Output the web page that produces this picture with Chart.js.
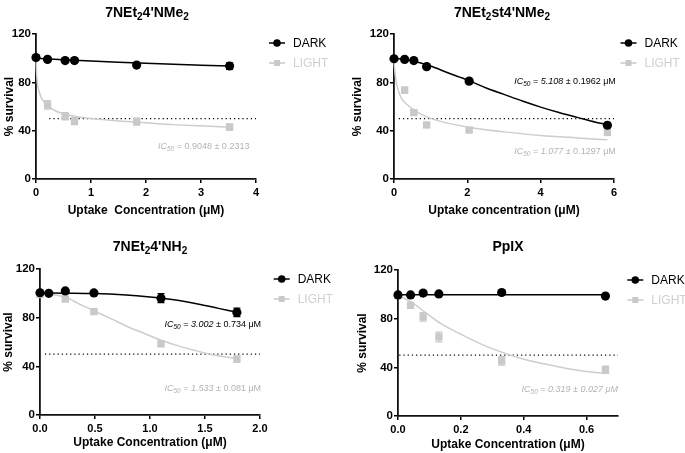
<!DOCTYPE html>
<html><head><meta charset="utf-8">
<script src="https://cdn.jsdelivr.net/npm/chart.js@4.4.1/dist/chart.umd.min.js"></script>
<style>
body{margin:0;background:#fff;width:685px;height:453px;position:relative;overflow:hidden;font-family:"Liberation Sans",Arial,sans-serif}
canvas{position:absolute}
.t{position:absolute;font-weight:bold;font-size:14px;transform:translate(-50%,-50%);white-space:nowrap;line-height:1}
.t sub{font-size:10px;vertical-align:-3px;line-height:0}
</style></head>
<body>
<canvas id="c1" width="342" height="226" style="left:0;top:0"></canvas>
<canvas id="c2" width="343" height="226" style="left:342px;top:0"></canvas>
<canvas id="c3" width="342" height="227" style="left:0;top:226px"></canvas>
<canvas id="c4" width="343" height="227" style="left:342px;top:226px"></canvas>
<div class="t" style="left:147px;top:12px">7NEt<sub>2</sub>4'NMe<sub>2</sub></div>
<div class="t" style="left:502px;top:12px">7NEt<sub>2</sub>st4'NMe<sub>2</sub></div>
<div class="t" style="left:150px;top:246px">7NEt<sub>2</sub>4'NH<sub>2</sub></div>
<div class="t" style="left:508px;top:246px">PpIX</div>
<script>
// ---------- DATA ----------
const yTicks = [0, 40, 80, 120];
const seriesNames = ['DARK', 'LIGHT'];

// Panel 1: 7NEt2 4'NMe2
const p1XTicks = [0, 1, 2, 3, 4];
const p1DarkX = [0, 0.21, 0.53, 0.70, 1.83, 3.52];
const p1DarkY = [100.5, 99, 98, 98, 94.3, 93.5];
const p1DarkErr = [0.8, 0.8, 0.8, 0.8, 1.2, 2.7];
const p1LightX = [0.21, 0.53, 0.70, 1.83, 3.52];
const p1LightY = [61.3, 52, 48, 47.5, 43];
const p1LightErr = [3.5, 3, 3, 3, 2.5];
const p1DarkFitX = [0, 0.5, 1, 1.5, 2, 2.5, 3, 3.52];
const p1DarkFitY = [100, 98.7, 97.6, 96.6, 95.7, 94.9, 94.2, 93.5];
const p1LightFitX = [0, 0.01, 0.03, 0.06, 0.1, 0.2, 0.35, 0.5, 0.75, 1, 1.5, 2, 2.5, 3, 3.52];
const p1LightFitY = [100, 88, 78, 72, 67, 61.5, 56.5, 54, 51.5, 50, 48, 46.5, 45, 44, 43];
const p1RefX = [0.24, 4.0];

// Panel 2: 7NEt2 st4'NMe2
const p2XTicks = [0, 2, 4, 6];
const p2DarkX = [0, 0.29, 0.54, 0.89, 2.05, 5.82];
const p2DarkY = [99.5, 99, 98, 93, 81, 44.5];
const p2DarkErr = [0.8, 0.8, 0.8, 1, 1, 1.5];
const p2LightX = [0.29, 0.54, 0.89, 2.05, 5.82];
const p2LightY = [73.5, 55, 44.7, 40.5, 38.5];
const p2LightErr = [2.5, 2, 2, 1.5, 2];
const p2DarkFitX = [0, 0.3, 0.6, 1, 1.5, 2, 2.5, 3, 3.5, 4, 4.5, 5, 5.5, 5.82];
const p2DarkFitY = [99.7, 99, 97, 93.5, 87.5, 82, 75.5, 70, 64.5, 59.5, 55, 51, 47, 45];
const p2LightFitX = [0, 0.03, 0.1, 0.2, 0.38, 0.6, 0.93, 1.3, 1.66, 2.2, 3, 4, 5, 5.82];
const p2LightFitY = [97, 87, 75, 67, 61, 56, 51, 47.5, 45, 42, 39, 36, 34, 32.5];
const p2RefX = [0.13, 6.0];

// Panel 3: 7NEt2 4'NH2
const p3XTicks = [0, 0.5, 1, 1.5, 2];
const p3DarkX = [0, 0.08, 0.23, 0.49, 1.10, 1.79];
const p3DarkY = [100.5, 100, 102, 100.3, 96, 84.3];
const p3DarkErr = [1, 0.8, 1, 1, 3.7, 3.5];
const p3LightX = [0, 0.23, 0.49, 1.10, 1.79];
const p3LightY = [99, 95.3, 85, 58.5, 46];
const p3LightErr = [1, 1.5, 1.5, 2, 2.5];
const p3DarkFitX = [0, 0.25, 0.5, 0.75, 1, 1.25, 1.5, 1.79];
const p3DarkFitY = [100.2, 100.1, 99.8, 98.8, 97, 94.3, 90, 84.3];
const p3LightFitX = [0, 0.1, 0.23, 0.35, 0.49, 0.65, 0.8, 0.95, 1.1, 1.25, 1.4, 1.55, 1.79];
const p3LightFitY = [100, 99, 97, 91.5, 85.7, 79, 72.5, 67, 61.5, 57, 53.3, 50, 46.3];
const p3RefX = [0.045, 2.0];

// Panel 4: PpIX
const p4XTicks = [0, 0.2, 0.4, 0.6];
const p4DarkX = [0, 0.04, 0.08, 0.13, 0.33, 0.66];
const p4DarkY = [99.5, 99.5, 101, 100.3, 101.5, 98.6];
const p4DarkErr = [0.8, 0.8, 0.8, 0.8, 0.8, 0.8];
const p4LightX = [0, 0.04, 0.08, 0.13, 0.33, 0.66];
const p4LightY = [99, 91, 81.5, 65, 45.3, 38];
const p4LightErr = [1, 2, 3.5, 4, 3.5, 3];
const p4DarkFitX = [0, 0.66];
const p4DarkFitY = [99.6, 99.6];
const p4LightFitX = [0, 0.04, 0.08, 0.13, 0.19, 0.27, 0.33, 0.41, 0.51, 0.6, 0.66];
const p4LightFitY = [99, 94, 86.5, 77, 68.5, 58.5, 52.5, 46, 40.5, 36.5, 35];
const p4RefX = [0.004, 0.7];

// ---------- STYLE ----------
const FONT = '"Liberation Sans", Arial, sans-serif';
const LIGHT = '#c9c9c9';
const LIGHTLINE = '#cdcdcd';
const LIGHTTXT = '#b3b3b3';
const zip = (xs, ys) => xs.map((x, i) => ({x, y: ys[i]}));

const errPlugin = {
  id: 'err',
  beforeDatasetsDraw(chart) {
    const ctx = chart.ctx, ys = chart.scales.y;
    chart.data.datasets.forEach((ds, i) => {
      if (!ds.err) return;
      const meta = chart.getDatasetMeta(i);
      ctx.save();
      ctx.strokeStyle = ds.borderColor; ctx.lineWidth = 1.2;
      meta.data.forEach((pt, j) => {
        const v = ds.data[j].y, e = ds.err[j];
        const y1 = ys.getPixelForValue(v + e), y2 = ys.getPixelForValue(v - e);
        ctx.beginPath();
        ctx.moveTo(pt.x, y1); ctx.lineTo(pt.x, y2);
        ctx.moveTo(pt.x - 3.5, y1); ctx.lineTo(pt.x + 3.5, y1);
        ctx.moveTo(pt.x - 3.5, y2); ctx.lineTo(pt.x + 3.5, y2);
        ctx.stroke();
      });
      ctx.restore();
    });
  }
};

const legendPlugin = {
  id: 'leg',
  afterDraw(chart, args, o) {
    const ctx = chart.ctx;
    ctx.save();
    [0, 1].forEach(k => {
      const ds = chart.data.datasets[k];
      const x = o.x, y = o.y + k * 20;
      const col = k === 0 ? '#000' : LIGHT;
      ctx.strokeStyle = col; ctx.lineWidth = 1.5;
      ctx.beginPath(); ctx.moveTo(x - 8, y); ctx.lineTo(x + 8, y); ctx.stroke();
      ctx.fillStyle = col;
      if (k === 0) { ctx.beginPath(); ctx.arc(x, y, 3.8, 0, Math.PI * 2); ctx.fill(); }
      else ctx.fillRect(x - 3, y - 3, 6, 6);
      ctx.fillStyle = k === 0 ? '#000' : '#d0d0d0';
      ctx.font = '12px ' + FONT;
      ctx.textBaseline = 'middle'; ctx.textAlign = 'left';
      ctx.fillText(ds.label, x + 16, y + 0.5);
    });
    ctx.restore();
  }
};

const icPlugin = {
  id: 'ic',
  afterDraw(chart, args, o) {
    const ctx = chart.ctx, xs = chart.scales.x, ys = chart.scales.y;
    (o.items || []).forEach(it => {
      const parts = [
        {t: 'IC', it: true, s: 9, dy: 0},
        {t: '50', it: true, s: 6.5, dy: 2.5},
        {t: ' = ', it: false, s: 9, dy: 0},
        {t: it.a, it: !!it.numItalic, s: 9, dy: 0},
        {t: ' \u00b1 ' + it.b, it: !!it.allItalic, s: 9, dy: 0},
      ];
      ctx.save();
      let w = 0;
      parts.forEach(p => { ctx.font = (p.it ? 'italic ' : '') + p.s + 'px ' + FONT; p.w = ctx.measureText(p.t).width; w += p.w; });
      let x = xs.getPixelForValue(it.x) - w;
      const y = ys.getPixelForValue(it.y);
      ctx.fillStyle = it.c; ctx.textBaseline = 'middle'; ctx.textAlign = 'left';
      parts.forEach(p => { ctx.font = (p.it ? 'italic ' : '') + p.s + 'px ' + FONT; ctx.fillText(p.t, x, y + p.dy); x += p.w; });
      ctx.restore();
    });
  }
};

function panel(id, d, L) {
  const fmt = d.dec ? (v => Number(v).toFixed(1)) : (v => String(v));
  new Chart(document.getElementById(id), {
    type: 'scatter',
    data: {datasets: [
      {label: seriesNames[0], data: zip(d.dx, d.dy), err: d.de, pointStyle: 'circle', pointRadius: 4.6, pointHoverRadius: 4.6,
       backgroundColor: '#000', borderColor: '#000', borderWidth: 0, showLine: false, clip: false},
      {label: seriesNames[1], data: zip(d.lx, d.ly), err: d.le, pointStyle: 'rect', pointRadius: 5.2, pointHoverRadius: 5.2,
       backgroundColor: LIGHT, borderColor: LIGHT, borderWidth: 0, showLine: false, clip: false},
      {label: 'fitD', data: zip(d.dfx, d.dfy), showLine: true, pointRadius: 0, borderColor: '#000', borderWidth: 1.5,
       cubicInterpolationMode: 'monotone', clip: false},
      {label: 'fitL', data: zip(d.lfx, d.lfy), showLine: true, pointRadius: 0, borderColor: LIGHTLINE, borderWidth: 1.5,
       cubicInterpolationMode: 'monotone', clip: false},
      {label: 'ref', data: [{x: d.ref[0], y: 50}, {x: d.ref[1], y: 50}], showLine: true, pointRadius: 0,
       borderColor: '#000', borderWidth: 1.2, borderDash: [1.2, 3], clip: false}
    ]},
    options: {
      responsive: false, animation: false, devicePixelRatio: 1, events: [],
      layout: {padding: {left: 0, top: L.top, right: L.right, bottom: 0}},
      plugins: {legend: {display: false}, tooltip: {enabled: false},
        leg: {x: L.legX, y: L.legY}, ic: {items: d.ic}},
      scales: {
        x: {type: 'linear', min: 0, max: d.xmax,
          afterBuildTicks: s => { s.ticks = d.xt.map(v => ({value: v})); },
          afterFit: s => { s.height = L.xh; },
          grid: {drawOnChartArea: false, drawTicks: true, tickLength: 4, color: '#000', lineWidth: 1.5},
          border: {color: '#111', width: 1.8},
          ticks: {color: '#000', padding: 3, font: {family: FONT, size: 11, weight: 'bold'}, callback: fmt, maxRotation: 0},
          title: {display: true, text: d.xtitle, color: '#000', font: {family: FONT, size: 12, weight: 'bold'}, padding: {top: 0, bottom: L.xtp}}
        },
        y: {type: 'linear', min: 0, max: 120,
          afterBuildTicks: s => { s.ticks = yTicks.map(v => ({value: v})); },
          afterFit: s => { s.width = L.yw; },
          grid: {drawOnChartArea: false, drawTicks: true, tickLength: 4, color: '#000', lineWidth: 1.5},
          border: {color: '#111', width: 1.8},
          ticks: {color: '#000', padding: 1, font: {family: FONT, size: 11.5, weight: 'bold'}},
          title: {display: true, text: '% survival', color: '#000', font: {family: FONT, size: 12, weight: 'bold'}, padding: {top: L.ytp, bottom: 0}}
        }
      }
    },
    plugins: [errPlugin, legendPlugin, icPlugin]
  });
}

panel('c1', {dx: p1DarkX, dy: p1DarkY, de: p1DarkErr, lx: p1LightX, ly: p1LightY, le: p1LightErr,
  dfx: p1DarkFitX, dfy: p1DarkFitY, lfx: p1LightFitX, lfy: p1LightFitY, ref: p1RefX, xmax: 4, xt: p1XTicks,
  xtitle: 'Uptake  Concentration (\u03bcM)',
  ic: [{x: 3.88, y: 26.8, a: '0.9048', b: '0.2313', c: LIGHTTXT}]},
  {top: 34, right: 86, xh: 47, yw: 36, xtp: 8, ytp: 2, legX: 277, legY: 43});

panel('c2', {dx: p2DarkX, dy: p2DarkY, de: p2DarkErr, lx: p2LightX, ly: p2LightY, le: p2LightErr,
  dfx: p2DarkFitX, dfy: p2DarkFitY, lfx: p2LightFitX, lfy: p2LightFitY, ref: p2RefX, xmax: 6, xt: p2XTicks,
  xtitle: 'Uptake concentration (\u03bcM)',
  ic: [{x: 6.05, y: 80.5, a: '5.108', b: '0.1962 \u03bcM', c: '#000', numItalic: true},
       {x: 6.05, y: 22.6, a: '1.077', b: '0.1297 \u03bcM', c: LIGHTTXT, numItalic: true}]},
  {top: 34, right: 71, xh: 47, yw: 52, xtp: 8, ytp: 8, legX: 286.5, legY: 43});

panel('c3', {dx: p3DarkX, dy: p3DarkY, de: p3DarkErr, lx: p3LightX, ly: p3LightY, le: p3LightErr,
  dfx: p3DarkFitX, dfy: p3DarkFitY, lfx: p3LightFitX, lfy: p3LightFitY, ref: p3RefX, xmax: 2, xt: p3XTicks, dec: true,
  xtitle: 'Uptake Concentration (\u03bcM)',
  ic: [{x: 2.01, y: 74, a: '3.002', b: '0.734 \u03bcM', c: '#000', numItalic: true},
       {x: 2.01, y: 21.9, a: '1.533', b: '0.081 \u03bcM', c: LIGHTTXT, numItalic: true}]},
  {top: 43, right: 82, xh: 38, yw: 40, xtp: 3, ytp: 1.5, legX: 281.7, legY: 53});

panel('c4', {dx: p4DarkX, dy: p4DarkY, de: p4DarkErr, lx: p4LightX, ly: p4LightY, le: p4LightErr,
  dfx: p4DarkFitX, dfy: p4DarkFitY, lfx: p4LightFitX, lfy: p4LightFitY, ref: p4RefX, xmax: 0.7, xt: p4XTicks, dec: true,
  xtitle: 'Uptake Concentration (\u03bcM)',
  ic: [{x: 0.7, y: 21.9, a: '0.319', b: '0.027 \u03bcM', c: LIGHTTXT, numItalic: true, allItalic: true}]},
  {top: 44, right: 67, xh: 37, yw: 56, xtp: 1, ytp: 13, legX: 293.3, legY: 54});
</script>
</body></html>
